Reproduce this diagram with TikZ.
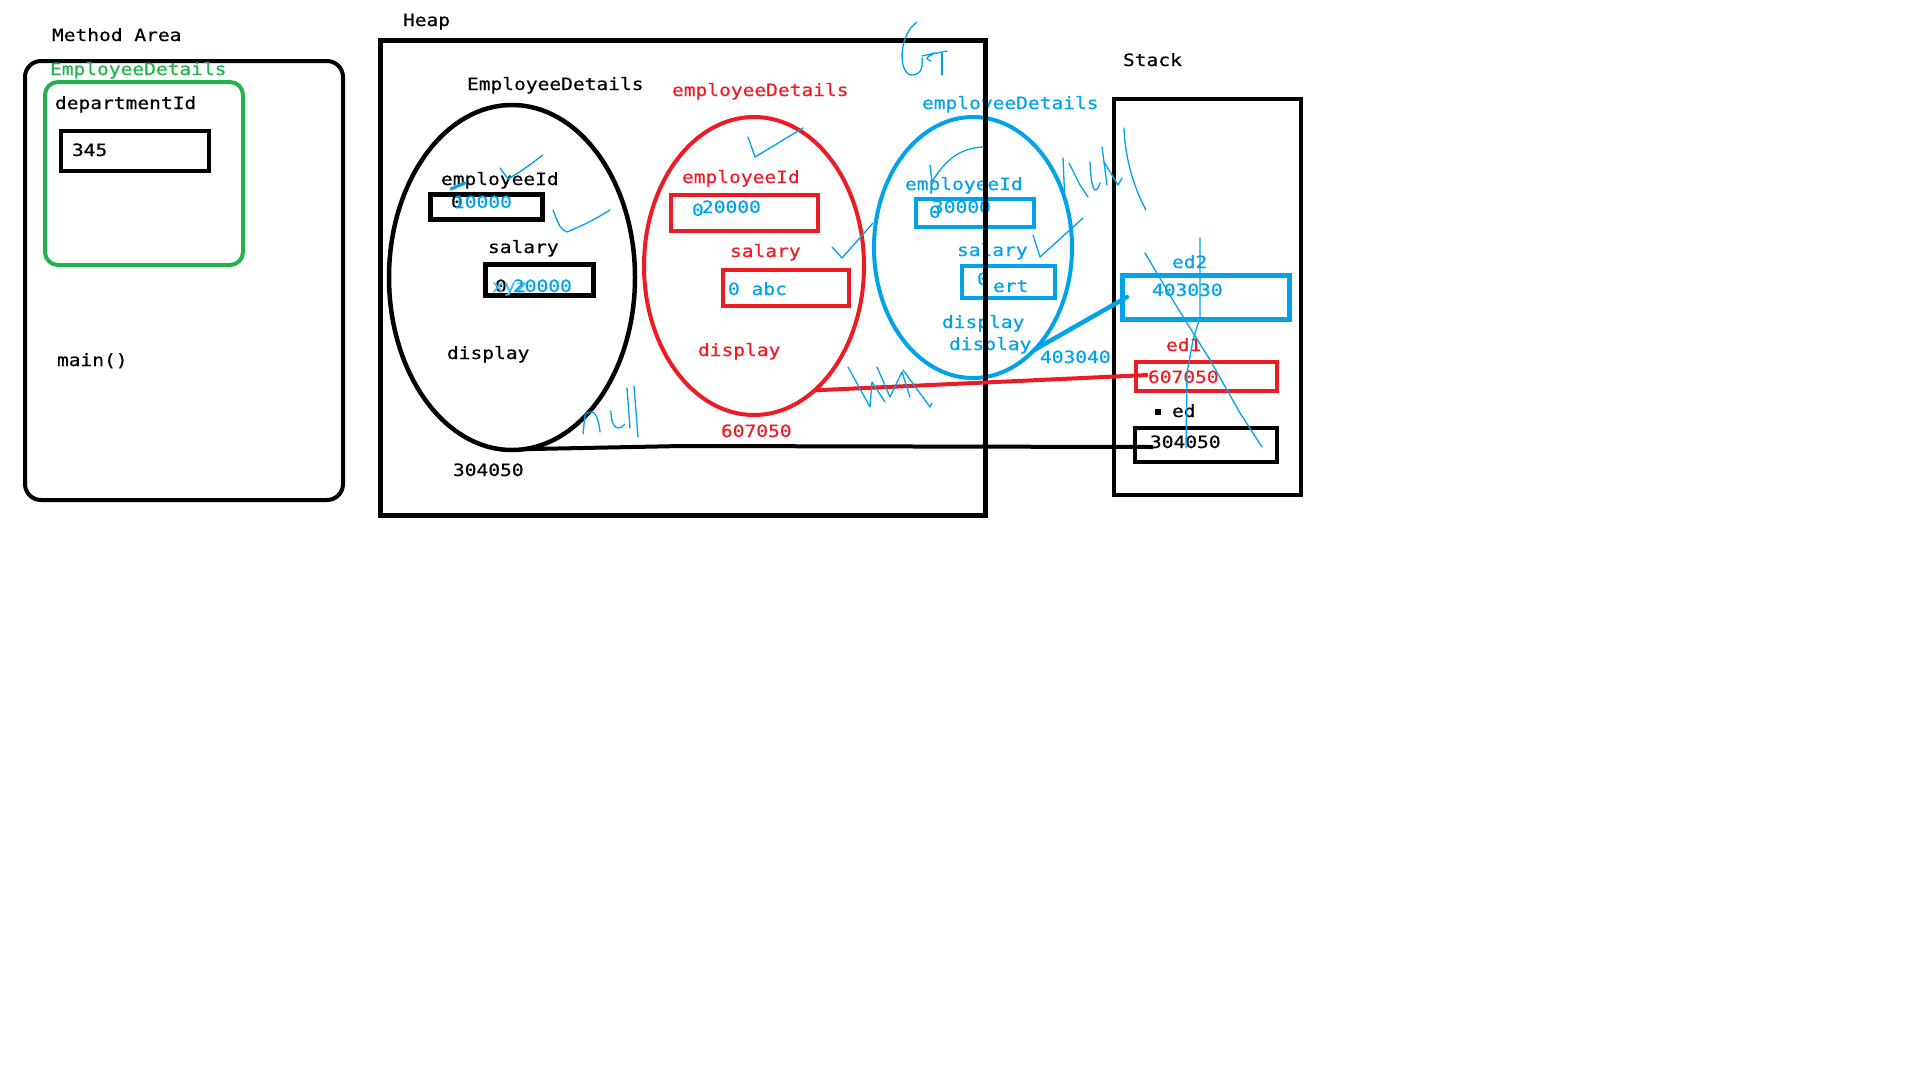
\documentclass[tikz,border=0pt]{standalone}
\usepackage{fontspec}
\setmonofont[FakeStretch=1.15,FakeBold=0.5]{DejaVu Sans Mono}
\usetikzlibrary{shapes.geometric,calc}
\definecolor{pblue}{HTML}{00A2E8}
\definecolor{pred}{HTML}{ED1C24}
\definecolor{pgreen}{HTML}{22B14C}
\definecolor{plblue}{HTML}{45BBF0}
\begin{document}
\begin{tikzpicture}[x=1pt,y=-1pt,
  txt/.style={anchor=base west,inner sep=0pt,outer sep=0pt,font=\ttfamily\fontsize{17}{20}\selectfont},
  oval/.style={ellipse,draw,line width=4.5pt,inner sep=0pt,outer sep=0pt},
  cell/.style={draw,line width=4.5pt,inner sep=0pt,outer sep=0pt,anchor=north west},
  scrib/.style={draw=pblue,line width=1.3pt,line cap=round,line join=round},
  wire/.style={line width=4pt}]
\useasboundingbox[fill=white] (0,0) rectangle (1924,1066);

% ---------------- Method Area ----------------
\node[txt] (mtitle) at (52,41) {Method Area};
\node[cell,line width=4pt,rounded corners=16pt,minimum width=318pt,minimum height=439pt] (method) at (25,61) {};
\node[txt,text=pgreen] (gtitle) at (50,75) {EmployeeDetails};
\node[cell,draw=pgreen,line width=4pt,rounded corners=13pt,minimum width=198pt,minimum height=183pt] (gbox) at (45,82) {};
\node[txt] (dept) at (55,109) {departmentId};
\node[cell,minimum width=148pt,minimum height=40pt] (deptbox) at (61,131) {};
\node[txt] (v345) at (72,156) {345};
\node[txt] (mainm) at (57,366) {main()};

% ---------------- Heap: black object ----------------
\node[txt] (htitle) at (403,26) {Heap};
\node[txt] (bname) at (467,90) {EmployeeDetails};
\node[oval,minimum width=246pt,minimum height=345pt] (blackEll) at (512,277.5) {};
\node[txt] (bid) at (441,185) {employeeId};
\node[cell,line width=5pt,minimum width=112pt,minimum height=25pt] (bidbox) at (430.5,194.5) {};
\node[txt] (bid0) at (451,208) {0};
\node[txt,text=pblue] (bidv) at (453,208) {10000};
\node[txt] (bsal) at (488,253) {salary};
\node[cell,line width=5pt,minimum width=108pt,minimum height=31pt] (bsalbox) at (485.5,264.5) {};
\node[txt] (bsal0) at (495,292) {0};
\node[txt,text=plblue] (bsalx) at (492,292) {xyz};
\node[txt,text=pblue] (bsalv) at (513,292) {20000};
\node[txt] (bdisp) at (447,359) {display};
\node[txt] (baddr) at (453,476) {304050};

% ---------------- Heap: red object ----------------
\node[txt,text=pred] (rname) at (672,96) {employeeDetails};
\node[oval,draw=pred,line width=4pt,minimum width=220pt,minimum height=298pt] (redEll) at (754,266) {};
\node[txt,text=pred] (rid) at (682,183) {employeeId};
\node[cell,draw=pred,minimum width=147pt,minimum height=36pt] (ridbox) at (671,195) {};
\node[txt,text=pblue] (rid0) at (692,216) {0};
\node[txt,text=pblue] (ridv) at (702,213) {20000};
\node[txt,text=pred] (rsal) at (730,257) {salary};
\node[cell,draw=pred,minimum width=126pt,minimum height=36pt] (rsalbox) at (723,270) {};
\node[txt,text=pblue] (rsalv) at (728,295) {0 abc};
\node[txt,text=pred] (rdisp) at (698,356) {display};
\node[txt,text=pred] (raddr) at (721,437) {607050};

% ---------------- Heap: blue object ----------------
\node[txt,text=pblue] (uname) at (922,109) {employeeDetails};
\node[oval,draw=pblue,line width=4pt,minimum width=198pt,minimum height=261pt] (blueEll) at (973,247.5) {};
\node[txt,text=pblue] (uid) at (905,190) {employeeId};
\node[cell,draw=pblue,minimum width=118pt,minimum height=28pt] (uidbox) at (916,199) {};
\node[txt,text=pblue] (uidv) at (932,213) {30000};
\node[txt,text=pblue] (uid0) at (929,218) {0};
\node[txt,text=pblue] (usal) at (957,256) {salary};
\node[cell,draw=pblue,minimum width=93pt,minimum height=32pt] (usalbox) at (962,266) {};
\node[txt,text=pblue] (usal0) at (977,285) {0};
\node[txt,text=pblue] (usalv) at (993,292) {ert};
\node[txt,text=pblue] (udisp1) at (942,328) {display};
\node[txt,text=pblue] (udisp2) at (949,350) {display};
\node[txt,text=pblue] (uaddr) at (1040,363) {403040};

% heap frame (drawn over the blue object)
\node[cell,line width=5pt,minimum width=605pt,minimum height=475pt] (heap) at (380.5,40.5) {};

% ---------------- Stack ----------------
\node[txt] (stitle) at (1123,66) {Stack};
\node[cell,line width=4pt,minimum width=187pt,minimum height=396pt] (stack) at (1114,99) {};
\node[txt,text=pblue] (ed2) at (1172,268) {ed2};
\node[cell,draw=pblue,line width=5pt,minimum width=167pt,minimum height=44pt] (ed2box) at (1122,275) {};
\node[txt,text=pblue] (ed2v) at (1152,296) {403030};
\node[txt,text=pred] (ed1) at (1166,351) {ed1};
\node[cell,draw=pred,minimum width=141pt,minimum height=29pt] (ed1box) at (1136,362) {};
\node[txt,text=pred] (ed1v) at (1148,383) {607050};
\fill (1155,409) rectangle (1161,415);
\node[txt] (ed) at (1172,417) {ed};
\node[cell,minimum width=142pt,minimum height=34pt] (edbox) at (1135,428) {};
\node[txt] (edv) at (1150,448) {304050};

% ---------------- connectors ----------------
\coordinate (midB) at (682,446);
\draw[wire] (blackEll.-86) -- (midB) -- ($(edbox.west)+(18,2)$);
\draw[wire,draw=pred] (redEll.-64) -- ($(ed1box.west)+(12,-1.5)$);
\draw[wire,draw=pblue,line width=4.5pt,line cap=round] (blueEll.-59) -- ($(ed2box.west)+(5,0)$);

% ---------------- hand-drawn marks ----------------
\draw[pblue,line width=3pt,line cap=round] (451,189) -- (465,183);
\draw[scrib] (500,168) -- (508,179) .. controls (520,172) .. (543,155);
\draw[scrib] (553,210) .. controls (560,228) .. (567,232) .. controls (590,222) .. (610,210);
\draw[scrib] (583,434) -- (585,415) .. controls (592,408) and (598,412) .. (600,432);
\draw[scrib] (611,411) .. controls (611,428) and (618,432) .. (625,424);
\draw[scrib] (627,388) -- (630,428);
\draw[scrib] (634,386) -- (638,437);
\draw[scrib] (748,137) -- (755,157) -- (803,128);
\draw[scrib] (832,247) -- (842,258) -- (873,223);
\draw[scrib] (848,367) -- (870,407) -- (872,382) -- (885,402);
\draw[scrib] (877,367) -- (890,397) -- (902,372) -- (910,397);
\draw[scrib] (903,370) -- (930,407) -- (932,403);
\draw[scrib] (917,22) .. controls (898,35) and (898,75) .. (912,75) .. controls (922,75) and (923,65) .. (922,58);
\draw[scrib] (922,56) -- (935,53) .. controls (925,58) .. (931,61);
\draw[scrib] (932,54) -- (947,51);
\draw[scrib] (942,53) -- (942,75);
\draw[scrib] (930,165) -- (932,182) .. controls (945,160) and (960,148) .. (983,147);
\draw[scrib] (1033,235) -- (1040,257) -- (1083,218);
\draw[scrib] (1063,158) -- (1065,204);
\draw[scrib] (1069,163) -- (1080,185) -- (1088,197);
\draw[scrib] (1090,162) .. controls (1091,192) and (1096,196) .. (1100,183);
\draw[scrib] (1102,147) -- (1107,185);
\draw[scrib] (1104,162) -- (1118,185) -- (1122,178);
\draw[scrib] (1124,128) .. controls (1125,160) and (1135,190) .. (1146,210);
\draw[scrib] (1200,238) -- (1200,317) -- (1193,340) -- (1187,373) -- (1186,448);
\draw[scrib] (1145,253) -- (1177,307) -- (1210,360) -- (1240,413) -- (1262,447);
\end{tikzpicture}
\end{document}
